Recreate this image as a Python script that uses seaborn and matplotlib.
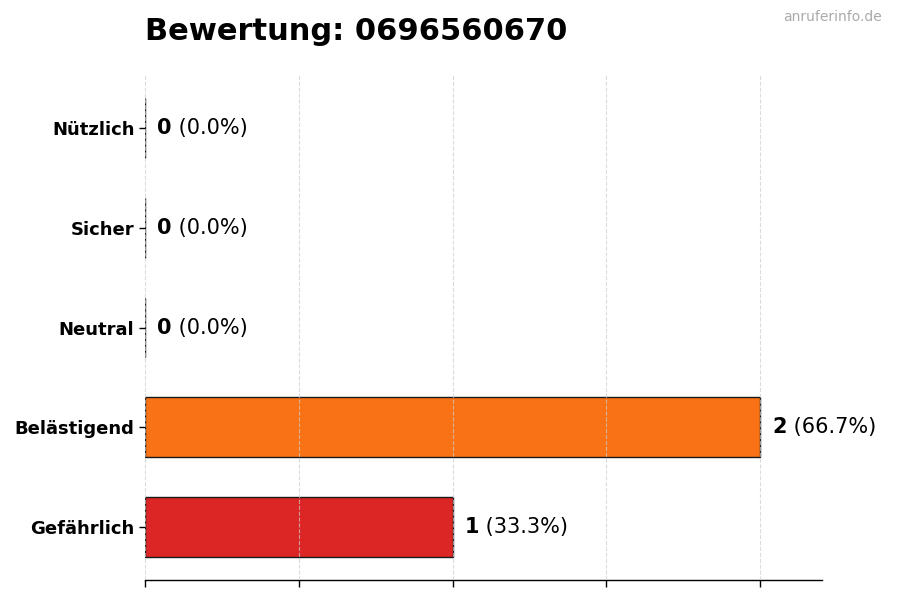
import matplotlib
matplotlib.use("Agg")
import matplotlib.pyplot as plt
import seaborn as sns
import pandas as pd

categories = ["Nützlich", "Sicher", "Neutral", "Belästigend", "Gefährlich"]
counts = [0, 0, 0, 2, 1]
percents = [0.0, 0.0, 0.0, 66.7, 33.3]
colors = ["#22c55e", "#3b82f6", "#9ca3af", "#f97316", "#dc2626"]
title = "Bewertung: 0696560670"
watermark = "anruferinfo.de"

sns.set_theme(style="white")
plt.rcParams['font.family'] = ['DejaVu Sans']
plt.rcParams['text.color'] = 'black'
plt.rcParams['axes.labelcolor'] = 'black'
plt.rcParams['xtick.color'] = 'black'
plt.rcParams['ytick.color'] = 'black'

df = pd.DataFrame({"cat": categories, "count": counts})

fig = plt.figure(figsize=(9, 6), dpi=100)
ax = fig.add_axes([0.161, 0.0333, 0.752, 0.8417])

sns.barplot(data=df, y="cat", x="count", hue="cat", palette=dict(zip(categories, colors)),
            order=categories, orient="h", width=0.6, edgecolor="#1a1a1a", linewidth=1,
            legend=False, ax=ax, saturation=1)

ax.set_xlim(0, 2.2)
ax.set_ylim(4.53, -0.53)
ax.set_xticks([0, 0.5, 1.0, 1.5, 2.0])
ax.set_xticklabels([])
ax.xaxis.grid(True, linestyle="--", color="#cccccc", linewidth=0.8, alpha=0.7)
ax.set_axisbelow(False)
for s in ["top", "right", "left"]:
    ax.spines[s].set_visible(False)
ax.spines["bottom"].set_color("black")
ax.spines["bottom"].set_linewidth(1.0)
ax.tick_params(axis="x", which="both", bottom=True, length=5, color="black", width=1.0)
ax.tick_params(axis="y", which="both", left=True, length=4, color="black", width=1.0)
ax.set_xlabel("")
ax.set_ylabel("")
for lbl in ax.get_yticklabels():
    lbl.set_fontweight("bold")
    lbl.set_fontsize(13)
    lbl.set_color("black")

for i, (c, p) in enumerate(zip(counts, percents)):
    t = ax.text(c + 0.04, i, f"{c}", va="center", ha="left", fontsize=15,
                fontweight="bold", color="black")
    ax.annotate(f" ({p:.1f}%)", xycoords=t, xy=(1, 0.5), va="center", ha="left",
                fontsize=15, color="black")

fig.text(0.161, 0.948, title, fontsize=22, fontweight="bold", ha="left", va="center", color="black")
fig.text(0.98, 0.971, watermark, fontsize=10, color="#aaaaaa", ha="right", va="center")

fig.savefig("out.png", dpi=100)
